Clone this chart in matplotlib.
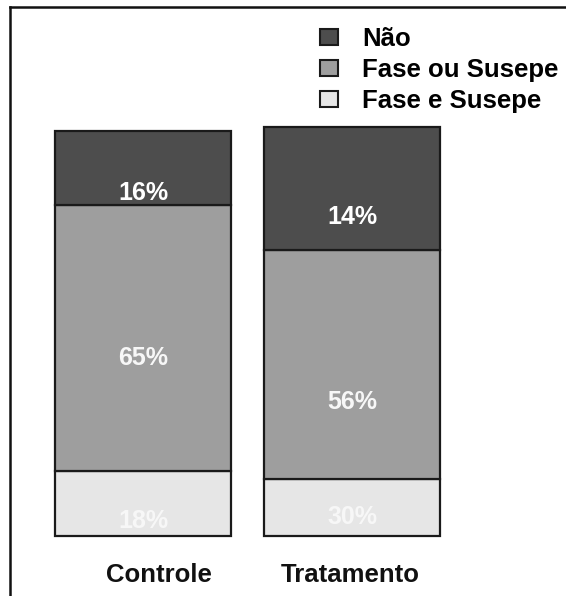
import numpy as np
import matplotlib
matplotlib.use("Agg")
import matplotlib.pyplot as plt
from matplotlib.patches import Patch
from matplotlib.lines import Line2D

plt.rcParams['font.family'] = ['Liberation Sans', 'DejaVu Sans']
plt.rcParams['font.weight'] = 'bold'

grupos = ['Controle', 'Tratamento']
# segment heights, bottom to top
fase_e_susepe = [16, 14]
fase_ou_susepe = [65, 56]
nao = [18, 30]
# percentages as printed on the bars (bottom, middle, top)
rotulos = [[18, 65, 16], [30, 56, 14]]
rotulo_y = [[3.7, 43.5, 83.9], [4.6, 32.8, 78.0]]
series = ['Não', 'Fase ou Susepe', 'Fase e Susepe']
cores = ['#4d4d4d', '#9e9e9e', '#e6e6e6']
cor_rotulo = ['#f7f7f7', '#f7f7f7', 'white']

W, H = 566, 596
fig = plt.figure(figsize=(W / 100, H / 100), dpi=100)
ax = fig.add_axes([0, 0, 1, 1])
px_x, px_y = 209.0, 4.09
ax.set_xlim(-143 / px_x, (W - 143) / px_x)
ax.set_ylim((536 - H) / px_y, 536 / px_y)
ax.axis('off')

x = np.arange(len(grupos))
largura = 176 / px_x
base = np.zeros(len(grupos))
for vals, cor in zip([fase_e_susepe, fase_ou_susepe, nao], cores[::-1]):
    ax.bar(x, vals, largura, bottom=base, color=cor, edgecolor='#1a1a1a', linewidth=1.6)
    base += np.array(vals)

for i in range(len(grupos)):
    for j in range(3):
        ax.text(x[i], rotulo_y[i][j], f'{rotulos[i][j]}%', ha='center', va='center',
                fontsize=18, color=cor_rotulo[j], fontweight='bold')

# category labels under the bars
cat_x = [x[0] + 16 / px_x, x[1] - 2 / px_x]
for cx, g in zip(cat_x, grupos):
    ax.text(cx, (536 - 575) / px_y, g, ha='center', va='center', fontsize=18.5,
            color='#111111', fontweight='bold')

handles = [Patch(facecolor=c, edgecolor='#1a1a1a', linewidth=1.5) for c in cores]
fig.legend(handles, series, loc='upper left', bbox_to_anchor=(320 / W, 1 - 27 / H),
           frameon=False, fontsize=18.5, handlelength=0.7, handleheight=0.62,
           handletextpad=0.95, labelspacing=0.27, borderpad=0, borderaxespad=0)

# frame of the original screenshot (top and left edges)
fig.add_artist(Line2D([10 / W, 1], [1 - 7 / H, 1 - 7 / H], color='#111111', lw=1.8))
fig.add_artist(Line2D([10 / W, 10 / W], [0, 1 - 7 / H], color='#111111', lw=1.8))

fig.savefig('out.png', dpi=100)
